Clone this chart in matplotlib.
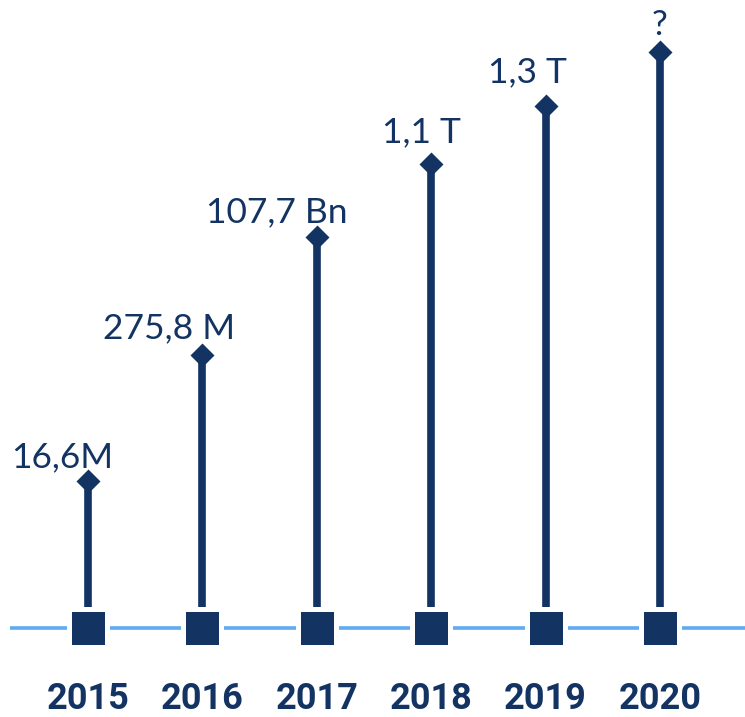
import numpy as np
import matplotlib.pyplot as plt

# Data
years = ['2015', '2016', '2017', '2018', '2019', '2020']
labels = ['16,6M', '275,8 M', '107,7 Bn', '1,1 T', '1,3 T', '?']
heights = [147, 273, 391, 464, 522, 576]   # visual stem heights (px above baseline)

# label offsets from the diamond (px), styling only
label_dx = [-26, -33, -40, -10, -18, 0]
label_dy = [14, 17, 15, 22, 24, 17]

navy = '#133463'
light = '#5eabf3'

fig = plt.figure(figsize=(7.45, 7.17), dpi=100)
ax = fig.add_axes([0, 0, 1, 1])

x = np.arange(len(years))
step = 114.4
ax.set_xlim(-88 / step, (745 - 88) / step)
ax.set_ylim(-89, 628)
ax.axis('off')

# baseline
ax.plot([10 / step - 88 / step, ax.get_xlim()[1]], [0, 0], color=light, lw=2.6,
        solid_capstyle='butt', zorder=1)

# stems
ax.vlines(x, 0, heights, color=navy, lw=5.5, zorder=2)
# diamonds at top
ax.plot(x, heights, 'D', color=navy, ms=12, mec='none', zorder=3)
# squares on baseline
ax.plot(x, np.zeros(len(x)), 's', color=navy, ms=27, mec='white', mew=3.6, zorder=4)

for xi, h, lab, dx, dy in zip(x, heights, labels, label_dx, label_dy):
    ax.annotate(lab, (xi, h), xytext=(dx, dy), textcoords='offset pixels',
                ha='center', va='baseline', fontsize=25.5, color=navy,
                family='Lato')

for xi, yr in zip(x, years):
    ax.annotate(yr, (xi, 0), xytext=(0, -81), textcoords='offset pixels',
                ha='center', va='baseline', fontsize=26, color=navy,
                family='Roboto', fontweight='bold')

fig.savefig('out.png', dpi=100)
